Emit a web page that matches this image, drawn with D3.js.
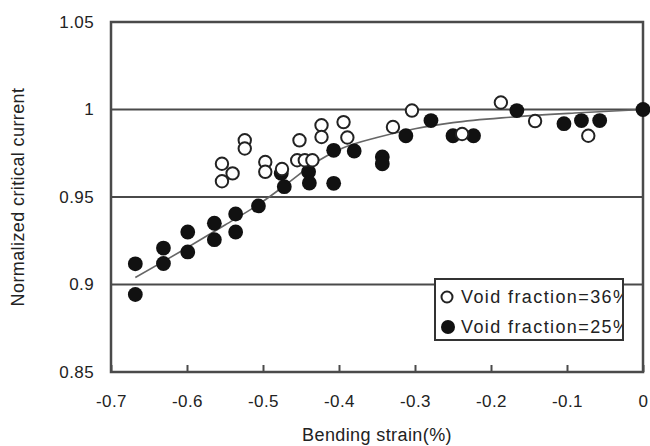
<!DOCTYPE html>
<html>
<head>
<meta charset="utf-8">
<script src="https://cdn.jsdelivr.net/npm/d3@7"></script>
<style>
  body { margin: 0; background: #fff; }
  text { font-family: "Liberation Sans", Arial, sans-serif; fill: #222; }
</style>
</head>
<body>
<div id="chart-area"></div>
<script>
// bending strain (%) vs normalized Ic
var void36X = [-0.554, -0.540, -0.554, -0.524, -0.524, -0.497, -0.497, -0.475, -0.455, -0.445, -0.435,
               -0.452, -0.423, -0.423, -0.394, -0.389, -0.329, -0.304, -0.238, -0.187, -0.142, -0.072];
var void36Y = [0.969, 0.9635, 0.959, 0.9824, 0.9777, 0.970, 0.9644, 0.966, 0.971, 0.971, 0.971,
               0.9824, 0.991, 0.9843, 0.9928, 0.984, 0.990, 0.9994, 0.986, 1.004, 0.9934, 0.985];

var void25X = [-0.668, -0.668, -0.631, -0.631, -0.599, -0.599, -0.564, -0.564, -0.536, -0.536, -0.506,
               -0.476, -0.472, -0.440, -0.439, -0.407, -0.407, -0.380, -0.343, -0.343, -0.312, -0.279,
               -0.250, -0.223, -0.166, -0.104, -0.081, -0.057, 0.0];
var void25Y = [0.9118, 0.8943, 0.9208, 0.912, 0.930, 0.9186, 0.935, 0.9256, 0.9403, 0.930, 0.9449,
               0.9635, 0.9559, 0.9644, 0.958, 0.9578, 0.9767, 0.9763, 0.9729, 0.9690, 0.985, 0.9937,
               0.985, 0.985, 0.9994, 0.9919, 0.9937, 0.9937, 1.0];

// fitted trend curve
var trendX = [-0.668, -0.6, -0.55, -0.505, -0.47, -0.43, -0.395, -0.35, -0.3, -0.25, -0.175, -0.09, 0];
var trendY = [0.904, 0.921, 0.934, 0.946, 0.957, 0.970, 0.978, 0.984, 0.989, 0.9925, 0.9956, 0.998, 1.0];

var xTicks = [-0.7, -0.6, -0.5, -0.4, -0.3, -0.2, -0.1, 0];
var yTicks = [0.85, 0.9, 0.95, 1, 1.05];
var gridVals = [0.9, 0.95, 1];
var legendLabels = ["Void fraction=36%", "Void fraction=25%"];

var w = 650, h = 446;
var margin = { left: 111, right: 643, top: 22, bottom: 372 };

var svg = d3.select("#chart-area")
    .append("svg")
    .attr("width", w)
    .attr("height", h);

var xScale = d3.scaleLinear().domain([-0.7, 0]).range([margin.left, margin.right]);
var yScale = d3.scaleLinear().domain([0.85, 1.05]).range([margin.bottom, margin.top]);

// gridlines
svg.selectAll(".grid")
    .data(gridVals)
    .enter()
    .append("line")
    .attr("class", "grid")
    .attr("x1", margin.left).attr("x2", margin.right)
    .attr("y1", function (d) { return yScale(d); })
    .attr("y2", function (d) { return yScale(d); })
    .attr("stroke", "#4a4a4a")
    .attr("stroke-width", 2);

// frame
svg.append("rect")
    .attr("x", margin.left).attr("y", margin.top)
    .attr("width", margin.right - margin.left).attr("height", margin.bottom - margin.top)
    .attr("fill", "none")
    .attr("stroke", "#4a4a4a")
    .attr("stroke-width", 2.5);

var xAxis = d3.axisBottom(xScale)
    .tickValues(xTicks)
    .tickSizeInner(-7)
    .tickSizeOuter(0)
    .tickPadding(23)
    .tickFormat(function (d) { return d === 0 ? "0" : d.toFixed(1); });

var gx = svg.append("g")
    .attr("transform", "translate(0," + margin.bottom + ")")
    .call(xAxis);
gx.select(".domain").remove();
gx.selectAll("line").attr("stroke", "#4a4a4a").attr("stroke-width", 2);
gx.selectAll("text")
    .attr("font-size", "17px")
    .attr("letter-spacing", "0.4px")
    .attr("fill", "#222");

var yAxis = d3.axisLeft(yScale)
    .tickValues(yTicks)
    .tickSize(0)
    .tickPadding(17)
    .tickFormat(function (d) { return String(d); });

var gy = svg.append("g")
    .attr("transform", "translate(" + margin.left + ",0)")
    .call(yAxis);
gy.select(".domain").remove();
gy.selectAll("text")
    .attr("font-size", "17px")
    .attr("letter-spacing", "0.4px")
    .attr("fill", "#222");

// trend line
var trend = trendX.map(function (x, i) { return [x, trendY[i]]; });
svg.append("path")
    .datum(trend)
    .attr("fill", "none")
    .attr("stroke", "#666")
    .attr("stroke-width", 1.6)
    .attr("d", d3.line()
        .x(function (d) { return xScale(d[0]); })
        .y(function (d) { return yScale(d[1]); })
        .curve(d3.curveMonotoneX));

// filled markers (25%)
svg.selectAll(".filled")
    .data(void25X.map(function (x, i) { return [x, void25Y[i]]; }))
    .enter()
    .append("circle")
    .attr("class", "filled")
    .attr("cx", function (d) { return xScale(d[0]); })
    .attr("cy", function (d) { return yScale(d[1]); })
    .attr("r", 7.4)
    .attr("fill", "#111");

// open markers (36%)
svg.selectAll(".open")
    .data(void36X.map(function (x, i) { return [x, void36Y[i]]; }))
    .enter()
    .append("circle")
    .attr("class", "open")
    .attr("cx", function (d) { return xScale(d[0]); })
    .attr("cy", function (d) { return yScale(d[1]); })
    .attr("r", 6.2)
    .attr("fill", "#fff")
    .attr("stroke", "#222")
    .attr("stroke-width", 2);

// legend
var lg = svg.append("g").attr("transform", "translate(435,279)");
svg.append("clipPath").attr("id", "legclip")
    .append("rect").attr("x", 435).attr("y", 279).attr("width", 187).attr("height", 61);
lg.append("rect")
    .attr("width", 188).attr("height", 61)
    .attr("fill", "#fff")
    .attr("stroke", "#333")
    .attr("stroke-width", 2);
lg.append("circle").attr("cx", 12).attr("cy", 18).attr("r", 5.5)
    .attr("fill", "#fff").attr("stroke", "#222").attr("stroke-width", 2);
lg.append("circle").attr("cx", 13).attr("cy", 48).attr("r", 7)
    .attr("fill", "#111");
svg.append("g").attr("clip-path", "url(#legclip)")
    .selectAll("text")
    .data(legendLabels)
    .enter()
    .append("text")
    .attr("x", 461)
    .attr("y", function (d, i) { return 303 + i * 30; })
    .attr("font-size", "18px")
    .attr("letter-spacing", "1.4px")
    .text(function (d) { return d; });

// axis titles
svg.append("text")
    .attr("x", (margin.left + margin.right) / 2)
    .attr("y", 441)
    .attr("text-anchor", "middle")
    .attr("font-size", "18px")
    .attr("letter-spacing", "0.4px")
    .text("Bending strain(%)");

svg.append("text")
    .attr("transform", "translate(24," + ((margin.top + margin.bottom) / 2) + ") rotate(-90)")
    .attr("text-anchor", "middle")
    .attr("font-size", "18px")
    .attr("letter-spacing", "0.4px")
    .text("Normalized critical current");
</script>
</body>
</html>
